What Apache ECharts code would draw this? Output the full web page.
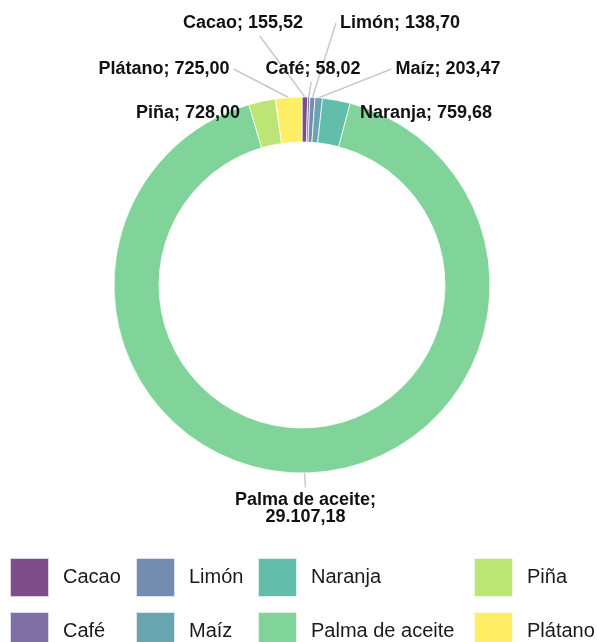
<!DOCTYPE html>
<html>
<head>
<meta charset="utf-8">
<title>Cultivos</title>
<script src="https://cdn.jsdelivr.net/npm/echarts@6/dist/echarts.min.js"></script>
<style>
  html, body { margin: 0; padding: 0; background: #ffffff; }
  #chart { width: 597px; height: 642px; }
</style>
</head>
<body>
<div id="chart"></div>
<script>
// Crop names and their values
const categories = ['Cacao', 'Café', 'Limón', 'Maíz', 'Naranja', 'Palma de aceite', 'Piña', 'Plátano'];
const values = [155.52, 58.02, 138.70, 203.47, 759.68, 29107.18, 728.00, 725.00];

// Viridis palette, laid over white at 70% opacity
const colors = ['#7c4d87', '#7e70a5', '#728daf', '#68a5b0', '#62bdab', '#80d499', '#bce575', '#feee66'];

// Where each slice label sits (text centre) and which point of its box the leader line meets
const labelSpots = {
  'Cacao':           { x: 243,   y: 23,  attach: [0.64, 1] },
  'Limón':           { x: 400,   y: 23,  attach: [0, 0.5] },
  'Plátano':         { x: 164,   y: 69,  attach: [1, 0.5] },
  'Café':            { x: 313,   y: 69,  attach: [0.48, 1] },
  'Maíz':            { x: 448,   y: 69,  attach: [0, 0.5] },
  'Piña':            { x: 188,   y: 113, attach: [1, 0.5] },
  'Naranja':         { x: 426,   y: 113, attach: [0, 0.5] },
  'Palma de aceite': { x: 305.5, y: 509, attach: [0.5, 0] }
};

const legendColumnsLeft = [9, 135, 257, 473];
const FONT = "'Liberation Sans', Arial, Helvetica, sans-serif";

// Spanish number style: dot for thousands, comma for decimals
function formatEs(v) {
  const parts = v.toFixed(2).split('.');
  return parts[0].replace(/\B(?=(\d{3})+(?!\d))/g, '.') + ',' + parts[1];
}

const chart = echarts.init(document.getElementById('chart'), null, { renderer: 'canvas' });

// Legend is laid out column by column, two entries per column
const legends = legendColumnsLeft.map(function (left, col) {
  return {
    data: categories.slice(col * 2, col * 2 + 2),
    orient: 'vertical',
    left: left,
    top: 557,
    height: 120,
    padding: 0,
    itemGap: 13,
    itemWidth: 39,
    itemHeight: 39,
    icon: 'rect',
    selectedMode: false,
    textStyle: {
      fontFamily: FONT,
      fontSize: 20,
      color: '#1a1a1a',
      padding: [0, 0, 0, 9]
    }
  };
});

const GAP = 4;

chart.setOption({
  animation: false,
  color: colors,
  legend: legends,
  series: [{
    type: 'pie',
    center: [302, 285],
    radius: [143, 188],
    startAngle: 90,
    clockwise: true,
    avoidLabelOverlap: false,
    data: categories.map(function (name, i) {
      return { name: name, value: values[i] };
    }),
    itemStyle: {
      borderColor: 'rgba(255,255,255,0.75)',
      borderWidth: 1
    },
    emphasis: { disabled: true },
    label: {
      show: true,
      position: 'outside',
      overflow: 'none',
      fontFamily: FONT,
      fontSize: 18,
      fontWeight: 'bold',
      lineHeight: 17,
      color: '#111111',
      align: 'center',
      formatter: function (p) {
        const text = p.name + '; ' + formatEs(p.value);
        return text.length > 20 ? p.name + ';\n' + formatEs(p.value) : text;
      }
    },
    labelLine: {
      show: true,
      length: 10,
      length2: 10,
      lineStyle: { color: '#c8c8c8', width: 1.5 }
    },
    labelLayout: function (p) {
      const spot = labelSpots[categories[p.dataIndex]];
      const w = p.labelRect.width;
      const h = p.labelRect.height;
      const left = spot.x - w / 2;
      const top = spot.y - h / 2;
      let ex = left + spot.attach[0] * w;
      let ey = top + spot.attach[1] * h;
      if (spot.attach[0] === 0) ex -= GAP;
      if (spot.attach[0] === 1) ex += GAP;
      if (spot.attach[1] === 0) ey -= GAP;
      if (spot.attach[1] === 1) ey += GAP;
      const out = { x: spot.x, y: spot.y, align: 'center', verticalAlign: 'middle' };
      if (p.labelLinePoints && p.labelLinePoints[0]) {
        const s = p.labelLinePoints[0];
        out.labelLinePoints = [
          [s[0], s[1]],
          [(s[0] + ex) / 2, (s[1] + ey) / 2],
          [ex, ey]
        ];
      }
      return out;
    }
  }]
});
</script>
</body>
</html>
